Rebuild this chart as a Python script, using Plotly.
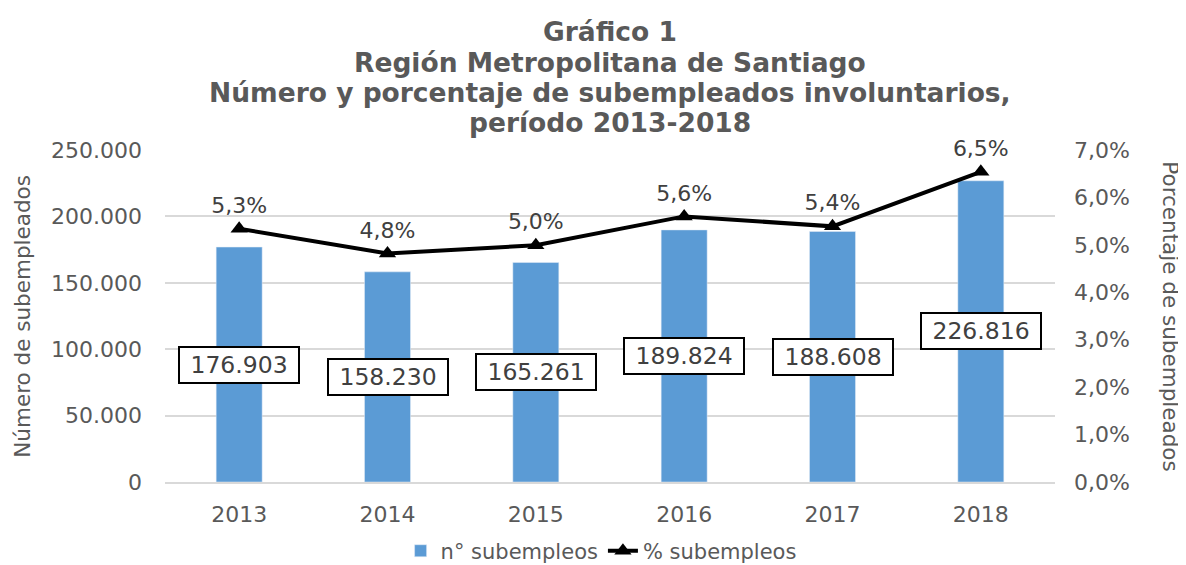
import plotly.graph_objects as go

anios = [2013, 2014, 2015, 2016, 2017, 2018]
subempleados = [176903, 158230, 165261, 189824, 188608, 226816]
etiquetas_num = ["176.903", "158.230", "165.261", "189.824", "188.608", "226.816"]
porcentaje = [5.34, 4.82, 4.99, 5.60, 5.39, 6.54]
etiquetas_pct = ["5,3%", "4,8%", "5,0%", "5,6%", "5,4%", "6,5%"]

izq_ticks = [0, 50000, 100000, 150000, 200000, 250000]
izq_labels = ["0", "50.000", "100.000", "150.000", "200.000", "250.000"]
der_ticks = [0, 1, 2, 3, 4, 5, 6, 7]
der_labels = ["0,0%", "1,0%", "2,0%", "3,0%", "4,0%", "5,0%", "6,0%", "7,0%"]

titulo = ["Gráfico 1", "Región Metropolitana de Santiago",
          "Número y porcentaje de subempleados involuntarios,", "período 2013-2018"]

FUENTE = "DejaVu Sans"
GRIS = "#595959"

fig = go.Figure()

# barras: número de subempleados
fig.add_trace(go.Bar(
    x=anios, y=subempleados,
    name="n° subempleos",
    marker=dict(color="#5B9BD5"),
    width=0.31,
))

# línea: porcentaje
fig.add_trace(go.Scatter(
    x=anios, y=porcentaje,
    name="% subempleos",
    yaxis="y2",
    mode="lines+markers+text",
    line=dict(color="black", width=4),
    marker=dict(symbol="triangle-up", size=15, color="black"),
    text=etiquetas_pct,
    textposition="top center",
    textfont=dict(family=FUENTE, size=22, color="#404040"),
    cliponaxis=False,
))

# etiquetas con recuadro a media altura de cada barra
for a, v, t in zip(anios, subempleados, etiquetas_num):
    fig.add_annotation(
        x=a, y=v / 2, xref="x", yref="y", text="&nbsp;" + t + "&nbsp;", showarrow=False,
        font=dict(family=FUENTE, size=23.5, color="#404040"),
        bgcolor="white", bordercolor="black", borderwidth=2, borderpad=3,
    )

# título en cuatro líneas
for ty, linea in zip([1.358, 1.265, 1.173, 1.083], titulo):
    fig.add_annotation(
        x=0.5, y=ty, xref="paper", yref="paper", text="<b>" + linea + "</b>",
        showarrow=False, xanchor="center", yanchor="middle",
        font=dict(family=FUENTE, size=26.5, color=GRIS),
    )

fig.add_annotation(
    x=-0.161, y=0.5, xref="paper", yref="paper", text="Número de subempleados",
    textangle=-90, showarrow=False, xanchor="center", yanchor="middle",
    font=dict(family=FUENTE, size=21.5, color=GRIS),
)
fig.add_annotation(
    x=1.130, y=0.5, xref="paper", yref="paper", text="Porcentaje de subempleados",
    textangle=90, showarrow=False, xanchor="center", yanchor="middle",
    font=dict(family=FUENTE, size=21.5, color=GRIS),
)

fig.update_layout(
    width=1178, height=557,
    paper_bgcolor="white", plot_bgcolor="white",
    margin=dict(l=157, r=131, t=142, b=83, autoexpand=False),
    font=dict(family=FUENTE, size=22, color=GRIS),
    xaxis=dict(
        range=[2012.5, 2018.5], tickvals=anios, showgrid=False, ticks="",
        showline=True, linecolor="#D9D9D9", linewidth=2, zeroline=False,
        tickfont=dict(size=22, color=GRIS), ticklabelstandoff=12, automargin=False,
    ),
    yaxis=dict(
        range=[0, 250000], tickvals=izq_ticks, ticktext=izq_labels,
        showgrid=True, gridcolor="#D9D9D9", gridwidth=2, zeroline=False,
        tickfont=dict(size=22, color=GRIS), ticks="", ticklabelstandoff=22,
        automargin=False,
    ),
    yaxis2=dict(
        range=[0, 7], tickvals=der_ticks, ticktext=der_labels,
        overlaying="y", side="right", showgrid=False, zeroline=False,
        tickfont=dict(size=22, color=GRIS), ticks="", ticklabelstandoff=18,
        automargin=False,
    ),
    showlegend=True,
    legend=dict(
        orientation="h", x=0.49, xanchor="center",
        y=0.025, yref="container", yanchor="middle",
        font=dict(family=FUENTE, size=21, color=GRIS),
    ),
)

fig.write_html("out.html")
